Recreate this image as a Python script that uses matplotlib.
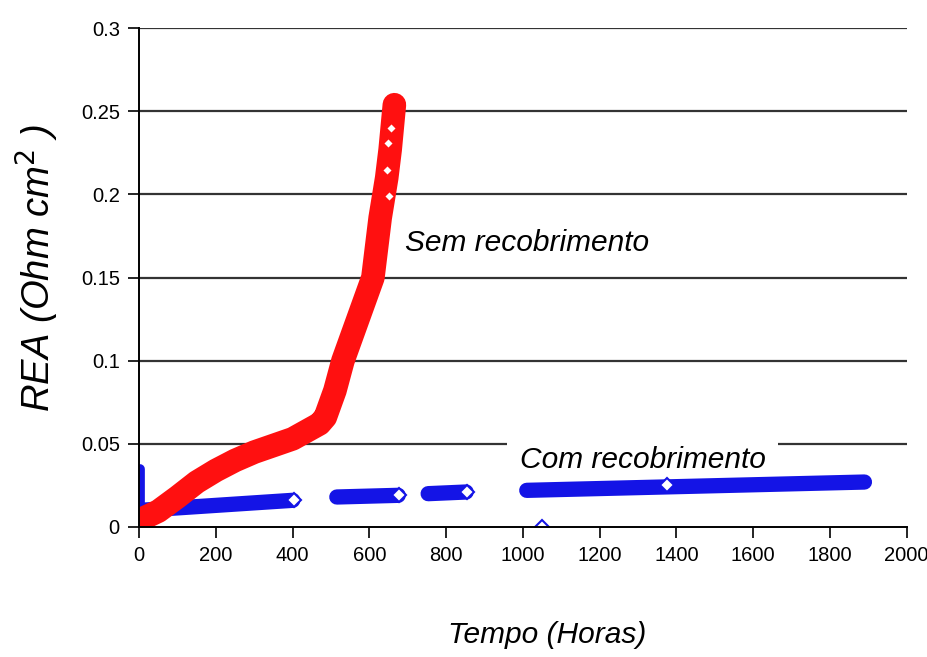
#!/usr/bin/env python3
"""REA versus tempo, amostras com e sem recobrimento"""
import matplotlib
matplotlib.use('Agg')
import matplotlib.pyplot as plt

# Sem recobrimento (horas, Ohm cm2)
sem_t = [0, 50, 100, 150, 200, 250, 300, 350, 400, 470, 485, 510, 531, 570, 609, 628, 645, 654, 665]
sem_rea = [0.004, 0.0095, 0.018, 0.027, 0.034, 0.040, 0.045, 0.049, 0.053, 0.062, 0.066, 0.082, 0.100,
           0.125, 0.150, 0.186, 0.210, 0.227, 0.254]
sem_pontos_t = [650, 645, 648, 655]
sem_pontos_rea = [0.199, 0.215, 0.231, 0.240]

# Com recobrimento, trechos de medicao
com_pico_t = [2, 2]
com_pico_rea = [0.0, 0.035]
com_trechos = [
    ([5, 400], [0.010, 0.016]),
    ([515, 675], [0.018, 0.019]),
    ([753, 852], [0.020, 0.021]),
    ([1010, 1890], [0.022, 0.027]),
]
com_pontos_t = [403, 678, 855, 1375, 1049]
com_pontos_rea = [0.016, 0.019, 0.021, 0.025, 0.0]

xticks = list(range(0, 2001, 200))
yticks = [0, 0.05, 0.1, 0.15, 0.2, 0.25, 0.3]
ytick_labels = ['0', '0.05', '0.1', '0.15', '0.2', '0.25', '0.3']

plt.rcParams['font.family'] = ['Liberation Sans', 'DejaVu Sans']

fig = plt.figure(figsize=(9.28, 6.57), dpi=100)
ax = fig.add_axes([0.15, 0.198, 0.827, 0.759])

for y in yticks[1:]:
    ax.axhline(y, color='#333333', linewidth=1.6, zorder=1)

blue = '#1414e6'
red = '#ff1010'
ax.plot(com_pico_t, com_pico_rea, color=blue, linewidth=7, solid_capstyle='round', zorder=3)
for t, r in com_trechos:
    ax.plot(t, r, color=blue, linewidth=11, solid_capstyle='round', zorder=3)
ax.plot(com_pontos_t, com_pontos_rea, linestyle='none', marker='D', markersize=7,
        markerfacecolor='white', markeredgecolor=blue, markeredgewidth=1.5, zorder=4)

ax.plot(sem_t, sem_rea, color=red, linewidth=17, solid_capstyle='round',
        solid_joinstyle='round', zorder=5)
ax.plot(sem_pontos_t, sem_pontos_rea, linestyle='none', marker='D', markersize=5,
        markerfacecolor='white', markeredgecolor=red, markeredgewidth=1, zorder=6)

ax.text(693, 0.166, 'Sem recobrimento', fontsize=21.5, style='italic', zorder=7)
ax.text(992, 0.0355, 'Com recobrimento', fontsize=21.5, style='italic', zorder=2,
        bbox=dict(facecolor='white', edgecolor='none', pad=9))

ax.set_xlim(0, 2000)
ax.set_ylim(0, 0.3)
ax.set_xticks(xticks)
ax.set_yticks(yticks)
ax.set_yticklabels(ytick_labels)
ax.tick_params(labelsize=14.5, length=8, width=1.2, direction='out', pad=6)
for side in ['top', 'right']:
    ax.spines[side].set_visible(False)
for side in ['left', 'bottom']:
    ax.spines[side].set_linewidth(1.4)
    ax.spines[side].set_zorder(8)

ax.set_ylabel('REA (Ohm cm$^2$ )', fontsize=27.5, style='italic', va='center')
ax.yaxis.set_label_coords(-0.133, 0.52)
ax.set_xlabel('Tempo (Horas)', fontsize=21.5, style='italic', va='center')
ax.xaxis.set_label_coords(0.531, -0.216)

plt.savefig('out.png', dpi=100)
plt.close()
